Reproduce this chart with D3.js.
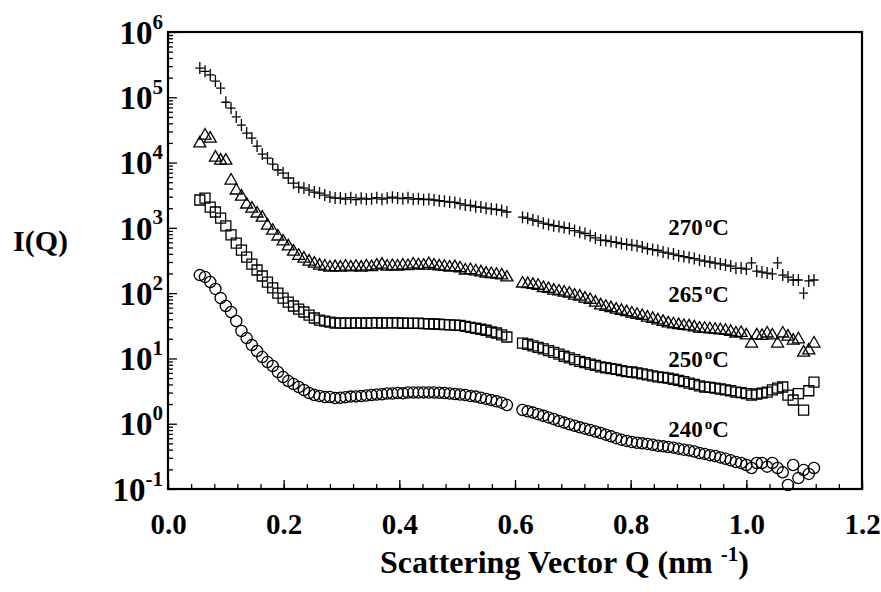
<!DOCTYPE html>
<html>
<head>
<meta charset="utf-8">
<script src="https://cdn.jsdelivr.net/npm/d3@7"></script>
<style>
body { margin: 0; background: #fff; }
text { font-family: "Liberation Serif", "Times New Roman", serif; font-weight: bold; fill: #000; }
</style>
</head>
<body>
<div id="chart-area"></div>
<script>
//scattering vector Q (nm-1), same grid for every temperature (detector gap near 0.6)
var qValues = [
  0.055, 0.064, 0.073, 0.082, 0.091, 0.100, 0.109, 0.118, 0.127, 0.136,
  0.145, 0.154, 0.163, 0.172, 0.181, 0.190, 0.199, 0.208, 0.217, 0.226,
  0.235, 0.244, 0.253, 0.262, 0.271, 0.280, 0.289, 0.298, 0.307, 0.316,
  0.325, 0.334, 0.343, 0.352, 0.361, 0.370, 0.379, 0.388, 0.397, 0.406,
  0.415, 0.424, 0.433, 0.442, 0.451, 0.460, 0.469, 0.478, 0.487, 0.496,
  0.505, 0.514, 0.523, 0.532, 0.541, 0.550, 0.559, 0.568, 0.577, 0.586,
  0.613, 0.622, 0.631, 0.640, 0.649, 0.658, 0.667, 0.676, 0.685, 0.694,
  0.703, 0.712, 0.721, 0.730, 0.739, 0.748, 0.757, 0.766, 0.775, 0.784,
  0.793, 0.802, 0.811, 0.820, 0.829, 0.838, 0.847, 0.856, 0.865, 0.874,
  0.883, 0.892, 0.901, 0.910, 0.919, 0.928, 0.937, 0.946, 0.955, 0.964,
  0.973, 0.982, 0.991, 1.000, 1.009, 1.018, 1.027, 1.036, 1.045, 1.054,
  1.063, 1.072, 1.081, 1.090, 1.099, 1.108, 1.117
];

//intensity I(Q) at each temperature
var i270 = [
  2.8e5, 2.5e5, 2.2e5, 1.77e5, 1.38e5, 8.4e4, 6.8e4, 5.0e4, 3.75e4, 2.83e4,
  2.37e4, 1.79e4, 1.35e4, 1.17e4, 9.5e3, 7.7e3, 6.9e3, 5.8e3, 4.85e3, 4.2e3,
  4.07e3, 3.79e3, 3.53e3, 3.41e3, 3.18e3, 2.96e3, 2.86e3, 2.86e3, 2.76e3, 2.9e3,
  2.7e3, 2.85e3, 2.75e3, 2.8e3, 2.9e3, 2.75e3, 2.85e3, 2.95e3, 2.86e3, 2.8e3,
  2.9e3, 2.75e3, 2.8e3, 2.7e3, 2.75e3, 2.67e3, 2.6e3, 2.55e3, 2.48e3, 2.45e3,
  2.35e3, 2.23e3, 2.2e3, 2.1e3, 2.08e3, 2.0e3, 1.95e3, 1.91e3, 1.85e3, 1.75e3,
  1.46e3, 1.4e3, 1.32e3, 1.26e3, 1.18e3, 1.13e3, 1.08e3, 1.05e3, 1.01e3, 980,
  910, 860, 820, 760, 700, 650, 640, 617, 600, 575,
  560, 545, 530, 508, 480, 465, 450, 426, 410, 397,
  375, 363, 350, 339, 320, 310, 300, 289, 280, 269,
  260, 240, 242, 234, 290, 218, 210, 203, 197, 290,
  189, 176, 159, 159, 100, 154, 159
];
var i265 = [
  2.0e4, 2.64e4, 2.37e4, 1.21e4, 1.09e4, 1.09e4, 5.4e3, 3.8e3, 3.07e3, 2.32e3,
  2.01e3, 1.69e3, 1.46e3, 1.1e3, 920, 750, 630, 530, 440, 380,
  344, 310, 289, 269, 260, 251, 255, 250, 260, 252,
  258, 250, 262, 255, 270, 278, 260, 265, 260, 270,
  265, 280, 272, 268, 285, 270, 262, 258, 251, 255,
  245, 226, 230, 220, 212, 203, 200, 195, 190, 177,
  143, 140, 136, 132, 122, 118, 111, 108, 104, 100,
  93.5, 90, 84, 80, 73, 66, 63, 60, 57, 54.5,
  52, 49.6, 47.5, 45.5, 43, 41, 39, 37, 35, 34,
  33, 32, 31.5, 30.5, 29.2, 29, 28.5, 28, 27.5, 27,
  26, 24.5, 25, 23, 17.2, 23, 22.5, 24.5, 23, 17.2,
  24.5, 22, 19.1, 20, 12.5, 13.5, 17.2
];
var i250 = [
  2.67e3, 2.86e3, 2.08e3, 1.75e3, 1.41e3, 1.07e3, 780, 585, 457, 357,
  279, 226, 183, 148, 120, 100, 84, 73, 63.5, 57,
  51.4, 46, 41.6, 38.7, 37.4, 36.1, 34.8, 35, 34.5, 35,
  34.8, 35, 34.6, 35, 35.2, 34.8, 35, 35.2, 35, 34.6,
  34.8, 34.5, 34.6, 34.2, 34, 33.7, 33.4, 33, 32.7, 32.3,
  32, 31, 30, 29, 28, 27, 25.4, 24.5, 23, 21.3,
  17.2, 16.5, 15.6, 14.8, 14, 13.2, 12.4, 11.6, 10.8, 10.2,
  9.6, 9, 8.6, 8.2, 7.8, 7.4, 7.2, 7, 6.8, 6.5,
  6.3, 6.2, 6.0, 5.8, 5.6, 5.4, 5.2, 5.1, 5.0, 4.8,
  4.6, 4.4, 4.2, 4.0, 3.8, 3.65, 3.6, 3.52, 3.4, 3.3,
  3.2, 3.05, 3.0, 2.9, 2.75, 2.85, 2.95, 3.05, 3.3, 3.5,
  3.65, 2.75, 2.31, 2.9, 1.62, 3.2, 4.35
];
var i240 = [
  189, 177, 148, 116, 84, 63.5, 51.4, 37.4, 26.3, 20.5,
  16, 13, 10.5, 8.8, 7.65, 6.2, 5.19, 4.5, 4.05, 3.65,
  3.28, 2.95, 2.75, 2.66, 2.56, 2.56, 2.48, 2.5, 2.55, 2.6,
  2.62, 2.65, 2.7, 2.75, 2.8, 2.82, 2.9, 2.9, 2.95, 2.92,
  3.0, 3.0, 3.0, 3.02, 3.0, 3.0, 2.98, 2.95, 2.9, 2.85,
  2.8, 2.75, 2.65, 2.6, 2.5, 2.4, 2.3, 2.2, 2.1, 1.93,
  1.62, 1.55, 1.48, 1.4, 1.32, 1.25, 1.18, 1.1, 1.04, 0.98,
  0.93, 0.88, 0.84, 0.8, 0.76, 0.72, 0.68, 0.64, 0.6, 0.57,
  0.545, 0.525, 0.51, 0.5, 0.49, 0.475, 0.46, 0.45, 0.44, 0.43,
  0.415, 0.4, 0.39, 0.375, 0.356, 0.345, 0.33, 0.32, 0.305, 0.29,
  0.275, 0.259, 0.25, 0.233, 0.21, 0.25, 0.25, 0.22, 0.25, 0.21,
  0.18, 0.115, 0.233, 0.147, 0.195, 0.17, 0.21
];

var temps = ["270", "265", "250", "240"];
//where each temperature label sits, in data units (Q, I)
var labelQ = [0.865, 0.865, 0.865, 0.865];
var labelI = [780, 73, 7.4, 0.625];

var xTicks = [0, 0.2, 0.4, 0.6, 0.8, 1.0, 1.2];
var yExponents = [-1, 0, 1, 2, 3, 4, 5, 6];

//layout
var margin = {top: 32, right: 19, bottom: 103, left: 168},
    width = 881 - margin.left - margin.right,
    height = 592 - margin.top - margin.bottom;

var svg = d3.select("#chart-area")
  .append("svg")
    .attr("width", width + margin.left + margin.right)
    .attr("height", height + margin.top + margin.bottom)
  .append("g")
    .attr("transform", "translate(" + margin.left + "," + margin.top + ")");

//scales
var x = d3.scaleLinear().domain([0, 1.2]).range([0, width]);
var y = d3.scaleLog().domain([0.1, 1e6]).range([height, 0]);

//minor ticks: every 0.04 on Q, 2..9 per decade on I
var xMinor = d3.range(0, 31).map(function(i){ return i * 0.04; });
var yMinor = [];
yExponents.slice(0, -1).forEach(function(e){
  for (var m = 2; m <= 9; m++) yMinor.push(m * Math.pow(10, e));
});

svg.append("g")
    .attr("transform", "translate(0," + height + ")")
    .call(d3.axisBottom(x).tickValues(xMinor).tickSize(-5).tickFormat(""))
    .call(g => g.select(".domain").remove());
svg.append("g")
    .call(d3.axisLeft(y).tickValues(yMinor).tickSize(-5).tickFormat(""))
    .call(g => g.select(".domain").remove());

//major x axis with labels
svg.append("g")
    .attr("class", "x axis")
    .attr("transform", "translate(0," + height + ")")
    .call(d3.axisBottom(x).tickValues(xTicks).tickSize(-9).tickPadding(24).tickFormat(d3.format(".1f")))
    .call(g => g.select(".domain").remove())
    .call(g => g.selectAll("text").attr("font-size", 29).attr("font-family", null));

//major y axis, labels as 10 with a raised exponent
var yAxisG = svg.append("g")
    .attr("class", "y axis")
    .call(d3.axisLeft(y).tickValues(yExponents.map(function(e){ return Math.pow(10, e); })).tickSize(-9).tickPadding(5).tickFormat(""))
    .call(g => g.select(".domain").remove());
yAxisG.selectAll(".tick text")
    .attr("font-size", 33)
    .attr("font-family", null)
    .attr("dy", "0.34em")
    .each(function(d){
      var t = d3.select(this);
      t.append("tspan").text("10");
      t.append("tspan").attr("font-size", 21).attr("dy", "-0.72em").text(Math.round(Math.log10(d)));
    });

svg.selectAll(".tick line").attr("stroke", "#000").attr("stroke-width", 1.3);

//plot frame
svg.append("rect")
    .attr("width", width)
    .attr("height", height)
    .attr("fill", "none")
    .attr("stroke", "#000")
    .attr("stroke-width", 2.2);

//marker shapes
var markers = {
  "270": "M-4.5,0H4.5M0,-6V6",
  "265": "M0,-6.5L6,4L-6,4Z",
  "250": "M-5,-5H5V5H-5Z",
  "240": d3.symbol().type(d3.symbolCircle).size(Math.PI * 5.6 * 5.6)()
};
var seriesValues = {"270": i270, "265": i265, "250": i250, "240": i240};

temps.forEach(function(t){
  var pts = qValues.map(function(q, i){ return {q: q, v: seriesValues[t][i]}; });
  svg.append("g")
      .attr("class", "series s" + t)
    .selectAll("path")
      .data(pts)
    .enter().append("path")
      .attr("transform", function(d){ return "translate(" + x(d.q) + "," + y(d.v) + ")"; })
      .attr("d", markers[t])
      .attr("fill", "none")
      .attr("stroke", "#000")
      .attr("stroke-width", 1.3);
});

//temperature labels
temps.forEach(function(t, i){
  var lab = svg.append("text")
      .attr("x", x(labelQ[i]))
      .attr("y", y(labelI[i]))
      .attr("font-size", 23);
  lab.append("tspan").text(t);
  lab.append("tspan").attr("font-size", 15).attr("dx", 2).attr("dy", -8).text("o");
  lab.append("tspan").attr("dy", 8).text("C");
});

//axis titles
svg.append("text")
    .attr("x", 13 - margin.left)
    .attr("y", 251 - margin.top)
    .attr("font-size", 30)
    .text("I(Q)");

var xTitle = svg.append("text")
    .attr("x", 380 - margin.left)
    .attr("y", 573 - margin.top)
    .attr("font-size", 32);
xTitle.append("tspan").text("Scattering Vector Q (nm ");
xTitle.append("tspan").attr("font-size", 21).attr("dy", -12).text("-1");
xTitle.append("tspan").attr("dy", 12).text(")");
</script>
</body>
</html>
